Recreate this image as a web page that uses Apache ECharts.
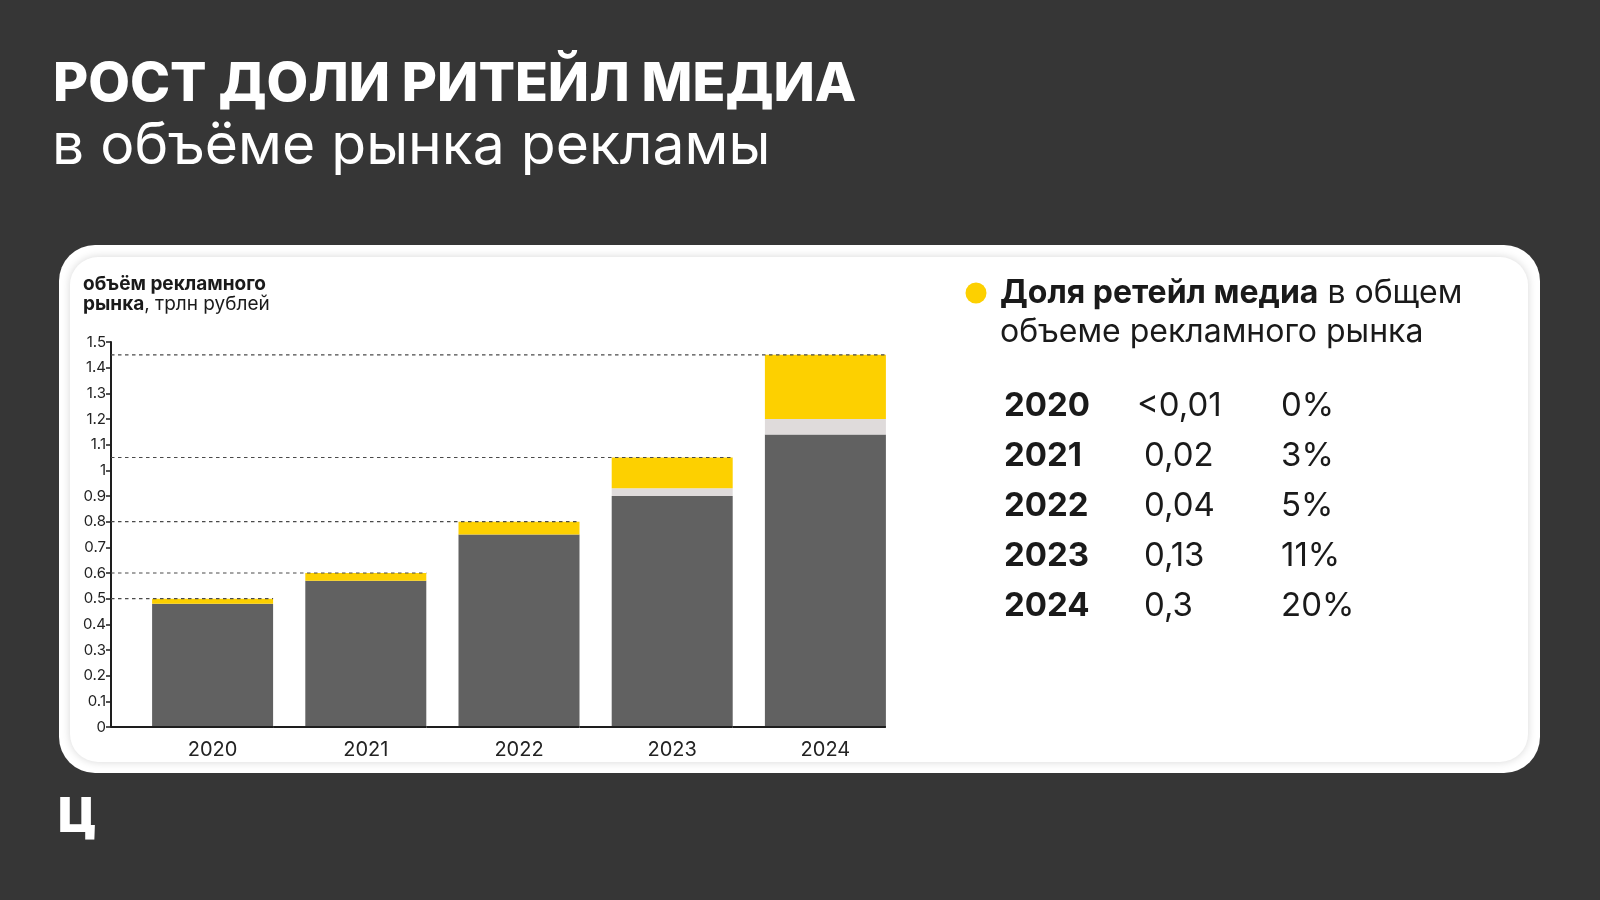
<!DOCTYPE html>
<html>
<head>
<meta charset="utf-8">
<title>Рост доли ритейл медиа</title>
<script src="https://cdn.jsdelivr.net/npm/echarts@6/dist/echarts.min.js"></script>
<style>
    html, body { margin: 0; padding: 0; background: #363636; }
    #chart { width: 1600px; height: 900px; }
</style>
</head>
<body>
<div id="chart"></div>
<script>
(function(){
    // data, трлн рублей
    let years = ['2020', '2021', '2022', '2023', '2024'];
    let baseValues = [0.48, 0.57, 0.75, 0.90, 1.14];      // dark gray part
    let midValues = [0, 0, 0, 0.03, 0.06];                // light gray part
    let retailValues = [0.02, 0.03, 0.05, 0.12, 0.25];    // yellow part
    let totals = [0.5, 0.6, 0.8, 1.05, 1.45];             // dashed guide levels

    // table on the right
    let tableYears = ['2020', '2021', '2022', '2023', '2024'];
    let tableRetail = ['<0,01', '0,02', '0,04', '0,13', '0,3'];
    let tableShare = ['0%', '3%', '5%', '11%', '20%'];

    let yMin = 0;
    let yMax = 1.5;
    let yStep = 0.1;

    const BAR_WIDTH = 121;
    const AXIS_OFFSET = 25;
    const FONT = 'Inter, "Noto Sans", sans-serif';

    let chart = echarts.init(document.getElementById('chart'));

    let _guideItem = function(params, api){
        let cs = params.coordSys;
        let idx = api.value(0);
        let top = api.coord([idx, api.value(1)]);
        let base = api.coord([idx, 0]);
        let half = BAR_WIDTH / 2;
        let axisX = cs.x - AXIS_OFFSET;
        let prevRight = (idx === 0) ? axisX : api.coord([idx - 1, 0])[0] + half;
        return {
            type: 'group',
            children: [
                {
                    type: 'line',
                    shape: { x1: axisX, y1: top[1], x2: top[0] + half, y2: top[1] },
                    style: { stroke: '#4a4a4a', lineWidth: 1.2, lineDash: [3.5, 3.5] }
                },
                {
                    type: 'line',
                    shape: { x1: prevRight, y1: base[1], x2: base[0] + half, y2: base[1] },
                    style: { stroke: '#1e1e1e', lineWidth: 2 }
                }
            ]
        };
    };

    // right-hand table built from the arrays
    let tableItems = [];
    tableYears.forEach((y, i) => {
        let cy = 410 + i * 50;
        tableItems.push({
            type: 'text', left: 1004, top: cy - 20,
            style: { text: y, font: 'bold 33px ' + FONT, fill: '#1a1a1a' }
        });
        tableItems.push({
            type: 'text', left: (tableRetail[i].charAt(0) === '<') ? 1137 : 1144, top: cy - 20,
            style: { text: tableRetail[i], font: '33px ' + FONT, fill: '#1a1a1a' }
        });
        tableItems.push({
            type: 'text', left: 1281, top: cy - 20,
            style: { text: tableShare[i], font: '33px ' + FONT, fill: '#1a1a1a' }
        });
    });

    let option = {
        backgroundColor: '#363636',
        animation: false,
        graphic: [
            {
                type: 'rect', z: -20, silent: true,
                shape: { x: 59, y: 245, width: 1481, height: 528, r: 36 },
                style: { fill: '#ffffff' }
            },
            {
                type: 'rect', z: -19, silent: true,
                shape: { x: 70, y: 257, width: 1458, height: 505, r: 28 },
                style: { fill: '#ffffff', shadowBlur: 8, shadowColor: 'rgba(0,0,0,0.16)' }
            },
            {
                type: 'text', left: 53, top: 58,
                style: { text: 'РОСТ ДОЛИ РИТЕЙЛ МЕДИА', font: '800 54px ' + FONT, fill: '#ffffff' }
            },
            {
                type: 'text', left: 52, top: 118,
                style: { text: 'в объёме рынка рекламы', font: '57px ' + FONT, fill: '#ffffff' }
            },
            {
                type: 'text', left: 58, top: 794,
                style: { text: 'Ц', font: '900 48px ' + FONT, fill: '#ffffff' }
            },
            {
                type: 'text', left: 83, top: 275,
                style: {
                    text: '{b|объём рекламного}\n{b|рынка}{n|, трлн рублей}',
                    rich: {
                        b: { font: 'bold 19px ' + FONT, fill: '#1a1a1a', lineHeight: 20 },
                        n: { font: '19px ' + FONT, fill: '#1a1a1a', lineHeight: 20 }
                    }
                }
            },
            {
                type: 'circle',
                shape: { cx: 976, cy: 293, r: 10.5 },
                style: { fill: '#FDD000' }
            },
            {
                type: 'text', left: 1000, top: 277,
                style: {
                    text: '{b|Доля ретейл медиа}{n| в общем}\n{n|объеме рекламного рынка}',
                    rich: {
                        b: { font: 'bold 32px ' + FONT, fill: '#1a1a1a', lineHeight: 39 },
                        n: { font: '32px ' + FONT, fill: '#1a1a1a', lineHeight: 39 }
                    }
                }
            }
        ].concat(tableItems),
        grid: {
            left: 136,
            width: 766,
            top: 342,
            bottom: 173,
            containLabel: false
        },
        xAxis: [
            {
                type: 'category',
                data: years,
                axisLine: { show: false },
                axisTick: { show: false },
                axisLabel: {
                    color: '#222222',
                    fontSize: 20,
                    fontFamily: FONT,
                    margin: 13
                }
            }
        ],
        yAxis: [
            {
                type: 'value',
                min: yMin,
                max: yMax,
                interval: yStep,
                offset: AXIS_OFFSET,
                splitLine: { show: false },
                axisLine: {
                    show: true,
                    lineStyle: { color: '#1e1e1e', width: 2 }
                },
                axisTick: {
                    show: true,
                    length: 5,
                    lineStyle: { color: '#1e1e1e', width: 1.5 }
                },
                axisLabel: {
                    color: '#222222',
                    fontSize: 15,
                    fontFamily: FONT,
                    margin: 5
                }
            }
        ],
        series: [
            {
                name: 'рынок',
                type: 'bar',
                stack: 'total',
                barWidth: BAR_WIDTH,
                data: baseValues,
                itemStyle: { color: '#616161' }
            },
            {
                name: 'прочее',
                type: 'bar',
                stack: 'total',
                barWidth: BAR_WIDTH,
                data: midValues,
                itemStyle: { color: '#DFDBDB' }
            },
            {
                name: 'ритейл медиа',
                type: 'bar',
                stack: 'total',
                barWidth: BAR_WIDTH,
                data: retailValues,
                itemStyle: { color: '#FDD000' }
            },
            {
                name: 'guides',
                type: 'custom',
                z: 5,
                silent: true,
                renderItem: _guideItem,
                encode: { x: 0, y: 1 },
                data: totals.map((t, i) => [i, t])
            }
        ]
    };

    chart.setOption(option);
})();
</script>
</body>
</html>
